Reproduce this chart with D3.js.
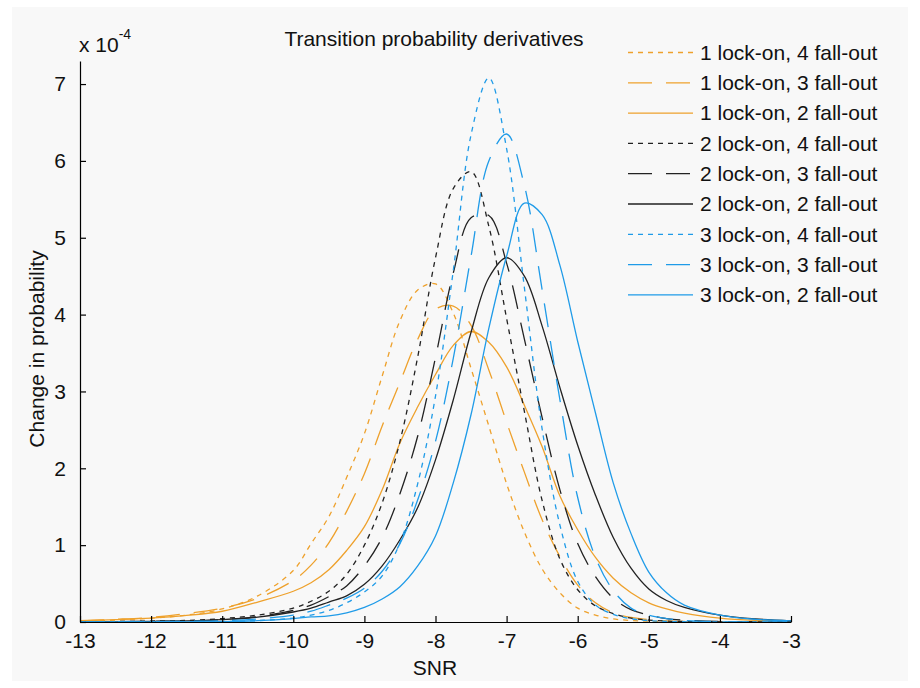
<!DOCTYPE html>
<html>
<head>
<meta charset="utf-8">
<script src="https://cdn.jsdelivr.net/npm/d3@7"></script>
<style>
  body { margin: 0; background: #fff; }
  svg { display: block; font-family: "Liberation Sans", Arial, sans-serif; }
</style>
</head>
<body>
<script>
// SNR grid shared by every curve
const snr = [-13, -12.5, -12, -11.5, -11, -10.5, -10, -9.75, -9.5, -9.25, -9, -8.75, -8.5, -8.25, -8,
  -7.75, -7.5, -7.25, -7, -6.75, -6.5, -6.25, -6, -5.75, -5.5, -5.25, -5, -4.75, -4.5, -4, -3.5, -3];

// values in units of 1e-4
const on1fo4 = [0.01, 0.025, 0.05, 0.09, 0.17, 0.34, 0.67, 1.02, 1.37, 1.88, 2.45, 3.2, 3.92, 4.32, 4.40,
  4.02, 3.3, 2.55, 1.8, 1.17, 0.69, 0.38, 0.18, 0.09, 0.04, 0.02, 0.01, 0.005, 0.003, 0.001, 0, 0];
const on1fo3 = [0.017, 0.035, 0.06, 0.11, 0.18, 0.31, 0.54, 0.74, 1.03, 1.44, 1.93, 2.55, 3.12, 3.68, 4.07,
  4.11, 3.86, 3.28, 2.6, 1.95, 1.33, 0.85, 0.48, 0.25, 0.12, 0.06, 0.03, 0.015, 0.008, 0.002, 0, 0];
const on1fo2 = [0.015, 0.03, 0.05, 0.085, 0.14, 0.26, 0.4, 0.51, 0.68, 0.93, 1.24, 1.72, 2.33, 2.8, 3.22,
  3.6, 3.78, 3.64, 3.32, 2.82, 2.28, 1.64, 1.2, 0.84, 0.57, 0.38, 0.25, 0.17, 0.115, 0.05, 0.02, 0.01];
const on2fo4 = [0.003, 0.006, 0.012, 0.02, 0.045, 0.09, 0.18, 0.27, 0.4, 0.62, 1.0, 1.55, 2.35, 3.45, 4.74,
  5.64, 5.86, 5.15, 3.95, 2.74, 1.58, 0.82, 0.42, 0.21, 0.11, 0.05, 0.025, 0.012, 0.006, 0.001, 0, 0];
const on2fo3 = [0.002, 0.004, 0.008, 0.014, 0.03, 0.07, 0.15, 0.22, 0.33, 0.47, 0.73, 1.1, 1.67, 2.42, 3.44,
  4.54, 5.26, 5.29, 4.67, 3.68, 2.66, 1.72, 1.02, 0.59, 0.31, 0.16, 0.09, 0.045, 0.025, 0.006, 0.001, 0];
const on2fo2 = [0.003, 0.005, 0.009, 0.014, 0.03, 0.064, 0.13, 0.18, 0.26, 0.34, 0.49, 0.73, 1.07, 1.49, 2.11,
  2.89, 3.77, 4.48, 4.74, 4.5, 3.85, 3.05, 2.3, 1.65, 1.1, 0.7, 0.43, 0.28, 0.19, 0.09, 0.04, 0.015];
const on3fo4 = [0, 0, 0.001, 0.003, 0.007, 0.018, 0.05, 0.09, 0.15, 0.25, 0.39, 0.6, 1.03, 1.8, 2.94,
  4.57, 6.34, 7.08, 6.16, 4.35, 2.51, 1.26, 0.53, 0.22, 0.1, 0.042, 0.018, 0.008, 0.003, 0, 0, 0];
const on3fo3 = [0, 0.001, 0.003, 0.01, 0.017, 0.04, 0.09, 0.14, 0.22, 0.31, 0.44, 0.66, 1.02, 1.59, 2.35,
  3.43, 4.76, 6.0, 6.35, 5.68, 4.32, 2.89, 1.62, 0.84, 0.41, 0.18, 0.09, 0.045, 0.02, 0.004, 0.001, 0];
const on3fo2 = [0, 0, 0.001, 0.002, 0.005, 0.017, 0.045, 0.066, 0.08, 0.12, 0.19, 0.3, 0.46, 0.73, 1.12,
  1.81, 2.7, 3.82, 4.76, 5.45, 5.3, 4.64, 3.65, 2.72, 1.81, 1.15, 0.65, 0.38, 0.22, 0.09, 0.035, 0.015];

const labels = ["1 lock-on, 4 fall-out", "1 lock-on, 3 fall-out", "1 lock-on, 2 fall-out",
  "2 lock-on, 4 fall-out", "2 lock-on, 3 fall-out", "2 lock-on, 2 fall-out",
  "3 lock-on, 4 fall-out", "3 lock-on, 3 fall-out", "3 lock-on, 2 fall-out"];
const xTicks = [-13, -12, -11, -10, -9, -8, -7, -6, -5, -4, -3];
const yTicks = [0, 1, 2, 3, 4, 5, 6, 7];

const orange = "#eea12c", black = "#222", blue = "#1f9be8";
const dotted = "5,5", dashed = "24,14";
const fs = 21;

const series = [
  { name: labels[0], values: on1fo4, color: orange, dash: dotted },
  { name: labels[1], values: on1fo3, color: orange, dash: dashed },
  { name: labels[2], values: on1fo2, color: orange, dash: null },
  { name: labels[3], values: on2fo4, color: black, dash: dotted },
  { name: labels[4], values: on2fo3, color: black, dash: dashed },
  { name: labels[5], values: on2fo2, color: black, dash: null },
  { name: labels[6], values: on3fo4, color: blue, dash: dotted },
  { name: labels[7], values: on3fo3, color: blue, dash: dashed },
  { name: labels[8], values: on3fo2, color: blue, dash: null }
];

const W = 920, H = 688;
const plot = { left: 80, right: 791, top: 61, bottom: 622 };

const svg = d3.select("body").append("svg")
  .attr("width", W)
  .attr("height", H);

svg.append("rect")
  .attr("x", 12).attr("y", 7)
  .attr("width", W - 24).attr("height", H - 14)
  .attr("fill", "#f8f8f8");

const x = d3.scaleLinear().domain([-13, -3]).range([plot.left, plot.right]);
const y = d3.scaleLinear().domain([0, 7.3]).range([plot.bottom, plot.top]);

const line = d3.line()
  .x((d, i) => x(snr[i]))
  .y(d => y(d))
  .curve(d3.curveCatmullRom.alpha(0.5));

const g = svg.append("g");

g.selectAll("path.curve")
  .data(series)
  .join("path")
  .attr("class", "curve")
  .attr("d", d => line(d.values))
  .attr("fill", "none")
  .attr("stroke", d => d.color)
  .attr("stroke-width", 1.3)
  .attr("stroke-dasharray", d => d.dash);

// axes (ticks pointing inward, MATLAB style), plain hyphen for minus
const xAxis = d3.axisBottom(x).tickValues(xTicks).tickFormat(d => String(d))
  .tickSizeInner(-6).tickSizeOuter(0).tickPadding(16);
const yAxis = d3.axisLeft(y).tickValues(yTicks).tickFormat(d => String(d))
  .tickSizeInner(-6).tickSizeOuter(0).tickPadding(14);

const gx = svg.append("g")
  .attr("transform", `translate(0,${plot.bottom})`)
  .call(xAxis);
const gy = svg.append("g")
  .attr("transform", `translate(${plot.left},0)`)
  .call(yAxis);

[gx, gy].forEach(a => {
  a.selectAll("path").attr("stroke", "#000").attr("stroke-width", 1.2);
  a.selectAll("line").attr("stroke", "#000").attr("stroke-width", 1.2);
  a.selectAll("text").attr("font-size", fs).attr("fill", "#111")
    .attr("font-family", "'Liberation Sans', Arial, sans-serif");
});
gx.selectAll("text").attr("dy", "0.71em").attr("y", 11);

// exponent label
const ex = svg.append("text")
  .attr("x", 79).attr("y", 52)
  .attr("font-size", fs).attr("fill", "#111");
ex.append("tspan").text("x 10");
ex.append("tspan").attr("dy", -13).attr("font-size", 14).text("-4");

svg.append("text")
  .attr("x", 434).attr("y", 46)
  .attr("text-anchor", "middle")
  .attr("font-size", fs).attr("fill", "#111")
  .text("Transition probability derivatives");

svg.append("text")
  .attr("x", 435).attr("y", 675)
  .attr("text-anchor", "middle")
  .attr("font-size", fs).attr("fill", "#111")
  .text("SNR");

svg.append("text")
  .attr("transform", "translate(44,349) rotate(-90)")
  .attr("text-anchor", "middle")
  .attr("font-size", fs).attr("fill", "#111")
  .text("Change in probability");

// legend
const legend = svg.append("g").attr("transform", "translate(628,52.5)");
const item = legend.selectAll("g")
  .data(series)
  .join("g")
  .attr("transform", (d, i) => `translate(0,${i * 30.3})`);

item.append("line")
  .attr("x1", 0).attr("x2", 65)
  .attr("stroke", d => d.color)
  .attr("stroke-width", 1.3)
  .attr("stroke-dasharray", d => d.dash);

item.append("text")
  .attr("x", 72).attr("dy", "0.35em")
  .attr("font-size", fs).attr("fill", "#111")
  .text(d => d.name);
</script>
</body>
</html>
